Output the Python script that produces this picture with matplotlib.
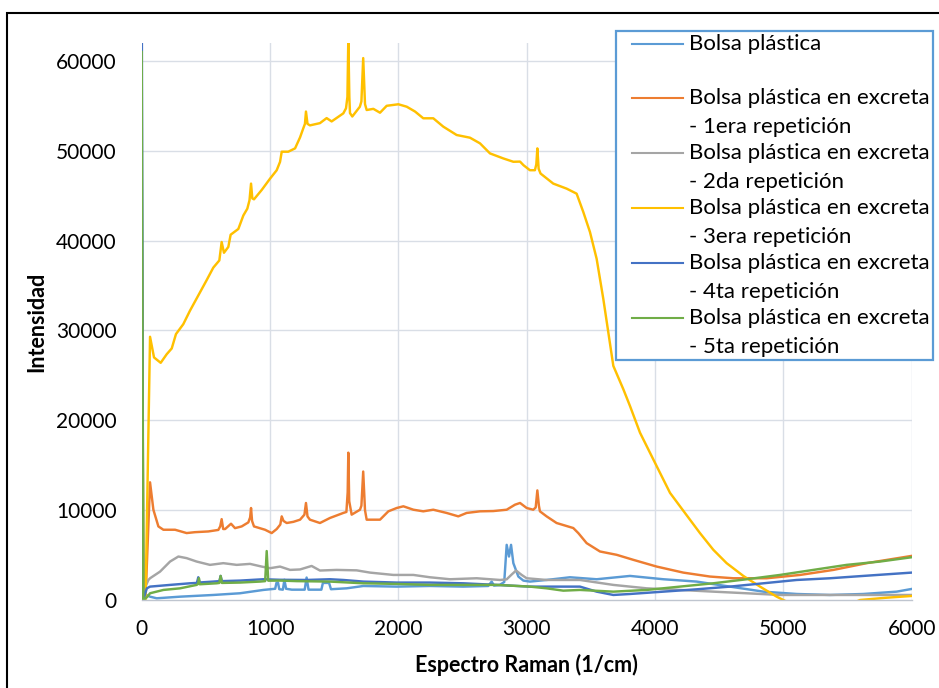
import matplotlib
matplotlib.use("Agg")
import matplotlib.pyplot as plt
from matplotlib.lines import Line2D
from matplotlib.patches import Rectangle

plt.rcParams['font.family'] = ['Lato', 'DejaVu Sans']

# Raman spectra: (wavenumber 1/cm, intensity) pairs per sample
bolsa = [(0, 50000), (12, 0), (30, 600), (65, 370), (117, 190), (299, 370), (558, 560), (766, 750),
         (948, 1120), (1040, 1250), (1050, 1900), (1062, 1950), (1072, 1200), (1100, 1150), (1112, 2250),
         (1125, 1250), (1170, 1150), (1270, 1150), (1285, 2500), (1300, 1150), (1400, 1150), (1412, 1900),
         (1460, 1900), (1475, 1200), (1597, 1300), (1727, 1560), (1987, 1490), (2246, 1560), (2506, 1490),
         (2700, 1560), (2727, 2050), (2745, 1600), (2790, 1680), (2825, 2000), (2844, 6140), (2862, 4840),
         (2878, 6140), (2896, 4100), (2935, 2610), (2974, 2160), (3025, 2050), (3155, 2230), (3337, 2530),
         (3545, 2310), (3805, 2680), (4065, 2310), (4324, 2050), (4584, 1490), (4844, 930), (5104, 670),
         (5363, 560), (5623, 670), (5883, 930), (6000, 1230)]

rep1 = [(0, 25000), (12, 0), (35, 2000), (65, 13100), (91, 10050), (130, 8190), (169, 7820), (260, 7820),
        (350, 7450), (415, 7550), (519, 7630), (597, 7800), (612, 8200), (623, 9000), (635, 7900), (650, 7900),
        (696, 8490), (727, 8000), (779, 8190), (831, 8640), (845, 9200), (852, 10240), (860, 8800), (875, 8190),
        (961, 7820), (1013, 7450), (1052, 7900), (1080, 8400), (1091, 9310), (1105, 8800), (1130, 8570),
        (1182, 8700), (1234, 8940), (1268, 9500), (1280, 10800), (1292, 9300), (1311, 8940), (1389, 8570),
        (1467, 9130), (1571, 9690), (1595, 9800), (1605, 12000), (1610, 16400), (1617, 11000), (1636, 9500),
        (1701, 10050), (1712, 10500), (1726, 14300), (1740, 10000), (1753, 8940), (1857, 8940), (1922, 9870),
        (1987, 10240), (2039, 10430), (2117, 10050), (2194, 9870), (2272, 10050), (2376, 9690), (2467, 9310),
        (2532, 9690), (2636, 9870), (2740, 9900), (2844, 10050), (2909, 10610), (2948, 10800), (3000, 10240),
        (3051, 10050), (3070, 10300), (3083, 12200), (3095, 10500), (3103, 9870), (3155, 9310), (3233, 8570),
        (3363, 8010), (3402, 7450), (3467, 6330), (3571, 5400), (3701, 5030), (3831, 4470), (4013, 3720),
        (4220, 3050), (4428, 2610), (4610, 2420), (4870, 2420), (5130, 2790), (5390, 3350), (5649, 4100),
        (6000, 4910)]

rep2 = [(0, 20000), (12, 0), (30, 1500), (52, 2230), (65, 2420), (143, 3160), (221, 4280), (286, 4840),
        (350, 4660), (428, 4280), (532, 3910), (636, 4100), (740, 3910), (844, 4020), (935, 3720), (1000, 3540),
        (1078, 3720), (1156, 3350), (1234, 3400), (1324, 3790), (1389, 3280), (1519, 3350), (1675, 3300),
        (1779, 3050), (1961, 2790), (2117, 2790), (2246, 2530), (2402, 2310), (2610, 2420), (2792, 2230),
        (2844, 2300), (2880, 2800), (2917, 3280), (2960, 2800), (3000, 2420), (3155, 2230), (3415, 2230),
        (3675, 1680), (3935, 1300), (4194, 1120), (4454, 930), (4714, 750), (4974, 560), (5233, 560),
        (6000, 560)]

rep3 = [(0, 42400), (15, -500), (30, 0), (65, 29300), (96, 27000), (148, 26400), (195, 27360), (234, 28000),
        (267, 29600), (324, 30700), (376, 32200), (441, 33900), (506, 35600), (558, 37000), (605, 37800),
        (623, 39850), (641, 38650), (675, 39300), (693, 40660), (753, 41300), (792, 42800), (823, 43560),
        (840, 44500), (852, 46350), (862, 44700), (875, 44600), (935, 45640), (1000, 46900), (1052, 47840),
        (1078, 48770), (1091, 49900), (1142, 49900), (1195, 50270), (1234, 51500), (1259, 52500), (1272, 53000),
        (1280, 54370), (1292, 53000), (1311, 52830), (1389, 53080), (1441, 53640), (1480, 53270), (1571, 54170),
        (1592, 54730), (1603, 56000), (1610, 62500), (1618, 56000), (1623, 54200), (1641, 53820), (1700, 54910),
        (1712, 55500), (1726, 60320), (1740, 55200), (1753, 54540), (1805, 54670), (1857, 54240), (1909, 55010),
        (2000, 55180), (2065, 54910), (2130, 54370), (2194, 53620), (2272, 53620), (2350, 52690), (2454, 51760),
        (2558, 51460), (2636, 50830), (2714, 49710), (2818, 49150), (2896, 48780), (2948, 48800), (2975, 48400),
        (3025, 47840), (3064, 47840), (3075, 48500), (3083, 50270), (3093, 48000), (3108, 47470), (3207, 46350),
        (3311, 45790), (3389, 45230), (3441, 43190), (3493, 40960), (3545, 37980), (3597, 33510), (3675, 26060),
        (3753, 23460), (3805, 21590), (3883, 18620), (4013, 14890), (4117, 11920), (4233, 9690), (4350, 7450),
        (4454, 5590), (4558, 4100), (4688, 2680), (4818, 1490), (4948, 370), (5026, -190), (5150, -1100),
        (5300, -1500), (5450, -900), (5597, 0), (5800, 250), (6000, 450)]

rep4 = [(0, 70000), (12, 0), (40, 1300), (65, 1490), (221, 1680), (376, 1860), (430, 1900), (441, 2530),
        (452, 1950), (558, 2050), (605, 2100), (615, 2680), (625, 2100), (766, 2160), (948, 2310), (1078, 2250),
        (1285, 2230), (1467, 2310), (1571, 2230), (1727, 2050), (1987, 1940), (2246, 1940), (2506, 1860),
        (2766, 1680), (3025, 1490), (3155, 1490), (3415, 1490), (3545, 930), (3675, 560), (3805, 670),
        (4065, 930), (4324, 1190), (4584, 1490), (4844, 1860), (5104, 2230), (5363, 2420), (5623, 2680),
        (6000, 3050)]

rep5 = [(0, 61000), (12, 0), (40, 300), (65, 750), (169, 1120), (299, 1300), (428, 1680), (440, 1800),
        (446, 2420), (452, 1750), (584, 1860), (605, 1900), (615, 2680), (625, 1900), (766, 1940), (922, 2050),
        (962, 2100), (974, 5450), (986, 2150), (1078, 2160), (1208, 2100), (1467, 2050), (1727, 1860),
        (1987, 1790), (2246, 1680), (2506, 1680), (2766, 1680), (3025, 1490), (3155, 1300), (3285, 1040),
        (3415, 1120), (3675, 930), (3935, 1120), (4194, 1490), (4454, 1860), (4714, 2310), (4974, 2790),
        (5233, 3350), (5493, 3910), (5753, 4280), (6000, 4760)]

series_names = ["Bolsa plástica",
                "Bolsa plástica en excreta - 1era repetición",
                "Bolsa plástica en excreta - 2da repetición",
                "Bolsa plástica en excreta - 3era repetición",
                "Bolsa plástica en excreta - 4ta repetición",
                "Bolsa plástica en excreta - 5ta repetición"]
series_colors = ["#5B9BD5", "#ED7D31", "#A5A5A5", "#FFC000", "#4472C4", "#70AD47"]
series_data = [bolsa, rep1, rep2, rep3, rep4, rep5]

x_ticks = [0, 1000, 2000, 3000, 4000, 5000, 6000]
y_ticks = [0, 10000, 20000, 30000, 40000, 50000, 60000]

W, H = 939, 688
fig = plt.figure(figsize=(W / 100, H / 100), dpi=100)
ax = fig.add_axes([141.7 / W, 1 - 600 / H, 770 / W, 557 / H])


def fig_xy(px, py):
    """Pixel position (from top-left) to figure fraction."""
    return px / W, 1 - py / H


grid_c = "#D9DEE6"
for xs in x_ticks[1:]:
    ax.axvline(xs, color=grid_c, lw=1.0, zorder=0)
for ys in y_ticks[1:]:
    ax.axhline(ys, color=grid_c, lw=1.0, zorder=0)

for data, name, col in zip(series_data, series_names, series_colors):
    xs = [p[0] for p in data]
    ys = [p[1] for p in data]
    ax.plot(xs, ys, color=col, lw=1.75, solid_joinstyle='round', zorder=2)

ax.set_xlim(0, 6000)
ax.set_ylim(0, 62000)
ax.set_xticks(x_ticks)
ax.set_yticks(y_ticks)
ax.set_xticklabels([str(v) for v in x_ticks])
ax.set_yticklabels([str(v) for v in y_ticks])
ax.tick_params(length=0, labelsize=15, colors="black")
ax.tick_params(axis='y', pad=18)
ax.tick_params(axis='x', pad=14)
for side in ["top", "right", "left"]:
    ax.spines[side].set_visible(False)
ax.spines["bottom"].set_color("#BFC5CF")
ax.spines["bottom"].set_linewidth(1.0)

ax.set_xlabel("Espectro Raman (1/cm)", fontsize=15.5, fontweight="bold")
ax.set_ylabel("Intensidad", fontsize=15.5, fontweight="bold")
ax.xaxis.set_label_coords(0.5, (600 - 665) / 557)
ax.xaxis.label.set_verticalalignment("center")
ax.yaxis.set_label_coords((37 - 141.7) / 770, 0.5)
ax.yaxis.label.set_verticalalignment("center")

# Legend box: one line sample per series, text wrapped onto two rows
fig.patches.append(Rectangle(fig_xy(616, 360), 317 / W, 329 / H, transform=fig.transFigure,
                             facecolor="white", edgecolor="#5B9BD5", lw=1.6, zorder=5))
row_step = 54.9
for i, (name, col) in enumerate(zip(series_names, series_colors)):
    y0 = 43.5 + i * row_step
    fig.add_artist(Line2D([631.7 / W, 682.7 / W], [1 - y0 / H, 1 - y0 / H],
                          transform=fig.transFigure, color=col, lw=1.5, zorder=6))
    if " - " in name:
        first, second = name.split(" - ")
        lines = [first, "- " + second]
    else:
        lines = [name]
    for j, t in enumerate(lines):
        fx, fy = fig_xy(689.3, y0 + j * 29)
        fig.text(fx, fy, t, fontsize=16, ha="left", va="center", color="black", zorder=6)

# Outer chart border
fig.patches.append(Rectangle((7 / W, -0.05), 1.2, 1.05 - 13 / H, transform=fig.transFigure,
                             fill=False, edgecolor="black", lw=1.5, clip_on=False))

fig.savefig("out.png", dpi=100)
